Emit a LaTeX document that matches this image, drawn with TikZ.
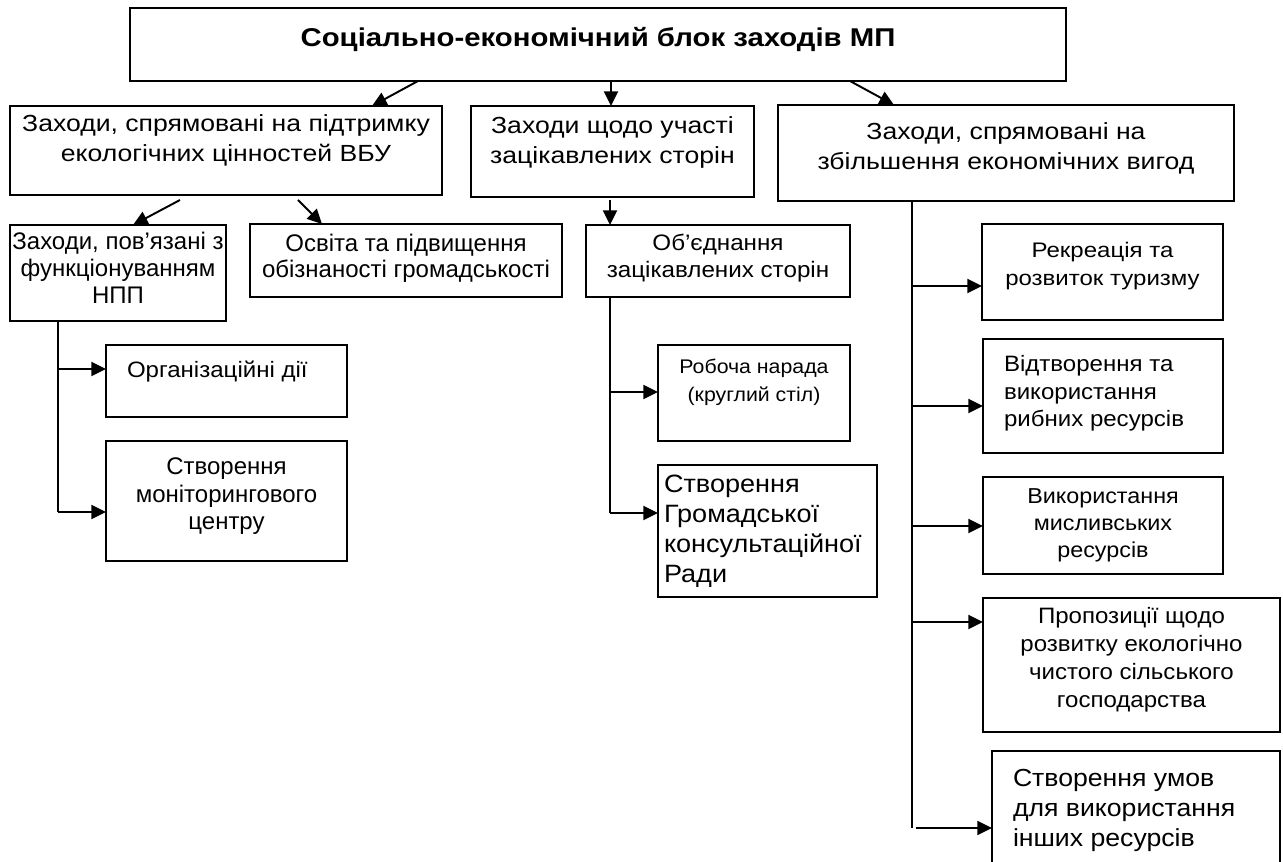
\documentclass[tikz,border=0pt]{standalone}
\usepackage{fontspec}
\setmainfont{Liberation Sans}
\newfontfamily\fwa[FakeStretch=1.14]{Liberation Sans}
\newfontfamily\fwb[FakeStretch=1.08]{Liberation Sans}
\usetikzlibrary{arrows.meta}
\tikzset{
 box/.style={draw, line width=1.45pt, inner sep=0pt, outer sep=0pt, anchor=north west},
 arr/.style={line width=1.45pt, -{Triangle[length=11pt,width=10.5pt]}},
 trunk/.style={line width=1.45pt}
}
\newcommand\fs[2]{\fontsize{#1pt}{#2pt}\selectfont}
\newcommand\bx[8]{%
 \node[box] (#1) at (#2,#3) {\parbox[t][\dimexpr(#5pt-#3pt)*3/4\relax][t]{\dimexpr(#4pt-#2pt)*3/4\relax}{#6\vspace*{\dimexpr(#7pt-#3pt)*3/4-0.7\baselineskip\relax}\strut #8}};}
\begin{document}
\begin{tikzpicture}[x=0.75pt,y=-0.75pt]
\useasboundingbox (0,0) rectangle (1283,862);
\bx{top}{130}{8}{1066}{81}{\fwa\fs{19.3}{26}\bfseries\centering}{47}{Соціально-економічний блок заходів МП}
\bx{b1}{10}{106}{442}{195}{\fwa\fs{17.5}{22.5}\centering}{132}{Заходи, спрямовані на підтримку\\екологічних цінностей ВБУ}
\bx{b2}{471}{106}{754}{197}{\fwa\fs{17.5}{22.5}\centering}{134}{Заходи щодо участі\\зацікавлених сторін}
\bx{b3}{778}{105}{1234}{201}{\fwa\fs{17.5}{22.5}\centering}{140}{Заходи, спрямовані на\\збільшення економічних вигод}
\bx{b4}{10}{225}{226}{321}{\fs{18}{19.9}\centering}{250}{Заходи, пов’язані з\\функціонуванням\\НПП}
\bx{b5}{250}{224}{562}{297}{\fs{18}{19.5}\centering}{252}{Освіта та підвищення\\обізнаності громадськості}
\bx{b6}{586}{225}{850}{297}{\fwb\fs{16.8}{20.25}\centering}{251}{Об’єднання\\зацікавлених сторін}
\bx{b7}{106}{345}{347}{417}{\fwb\fs{16.7}{20}\raggedright\leftskip=15.75pt}{378}{Організаційні дії}
\bx{b8}{106}{441}{347}{561}{\fs{18}{20.6}\centering}{475}{Створення\\моніторингового\\центру}
\bx{b9}{658}{345}{850}{441}{\fwb\fs{14.8}{21}\centering}{374}{Робоча нарада\\(круглий стіл)}
\bx{b10}{658}{465}{877}{597}{\fwb\fs{18.8}{22.5}\raggedright\leftskip=4.5pt}{493}{Створення\\Громадської\\консультаційної\\Ради}
\bx{b11}{982}{224}{1223}{320}{\fwa\fs{15.8}{21}\centering}{258}{Рекреація та\\розвиток туризму}
\bx{b12}{983}{339}{1223}{453}{\fwb\fs{16.7}{20.6}\raggedright\leftskip=15.75pt}{372}{Відтворення та\\використання\\рибних ресурсів}
\bx{b13}{983}{477}{1223}{574}{\fwb\fs{16.2}{20.25}\centering}{504}{Використання\\мисливських\\ресурсів}
\bx{b14}{983}{598}{1280}{732}{\fwb\fs{16.7}{20.8}\centering}{624}{Пропозиції щодо\\розвитку екологічно\\чистого сільського\\господарства}
\bx{b15}{992}{751}{1280}{866}{\fwb\fs{18.5}{22.5}\raggedright\leftskip=15.75pt}{787}{Створення умов\\для використання\\інших ресурсів}
% connectors from top
\draw[arr] (top.south -| 418,0) -- (b1.north -| 372,0);
\draw[arr] (top.south -| 611,0) -- (b2.north -| 611,0);
\draw[arr] (top.south -| 850,0) -- (b3.north -| 894,0);
% second level
\coordinate (s4) at (180,200);
\coordinate (s5) at (298,200);
\coordinate (s6) at (610,200);
\draw[arr] (s4) -- (b4.north -| 133,0);
\draw[arr] (s5) -- (b5.north -| 322,0);
\draw[arr] (s6) -- (b6.north -| s6);
% trunk under b4
\coordinate (t4) at (58,512);
\draw[trunk] (b4.south -| t4) -- (t4);
\draw[arr] (t4 |- 0,369) -- (b7.west |- 0,369);
\draw[arr] (t4) -- (b8.west |- t4);
% trunk under b6
\coordinate (t6) at (610,513);
\draw[trunk] (b6.south -| t6) -- (t6);
\draw[arr] (t6 |- 0,392) -- (b9.west |- 0,392);
\draw[arr] (t6) -- (b10.west |- t6);
% trunk under b3
\coordinate (t3) at (912,828);
\draw[trunk] (b3.south -| t3) -- (t3);
\draw[arr] (t3 |- 0,286) -- (b11.west |- 0,286);
\draw[arr] (t3 |- 0,406) -- (b12.west |- 0,406);
\draw[arr] (t3 |- 0,526) -- (b13.west |- 0,526);
\draw[arr] (t3 |- 0,622) -- (b14.west |- 0,622);
\coordinate (s15) at (916,828);
\draw[arr] (s15) -- (b15.west |- s15);
\end{tikzpicture}
\end{document}
